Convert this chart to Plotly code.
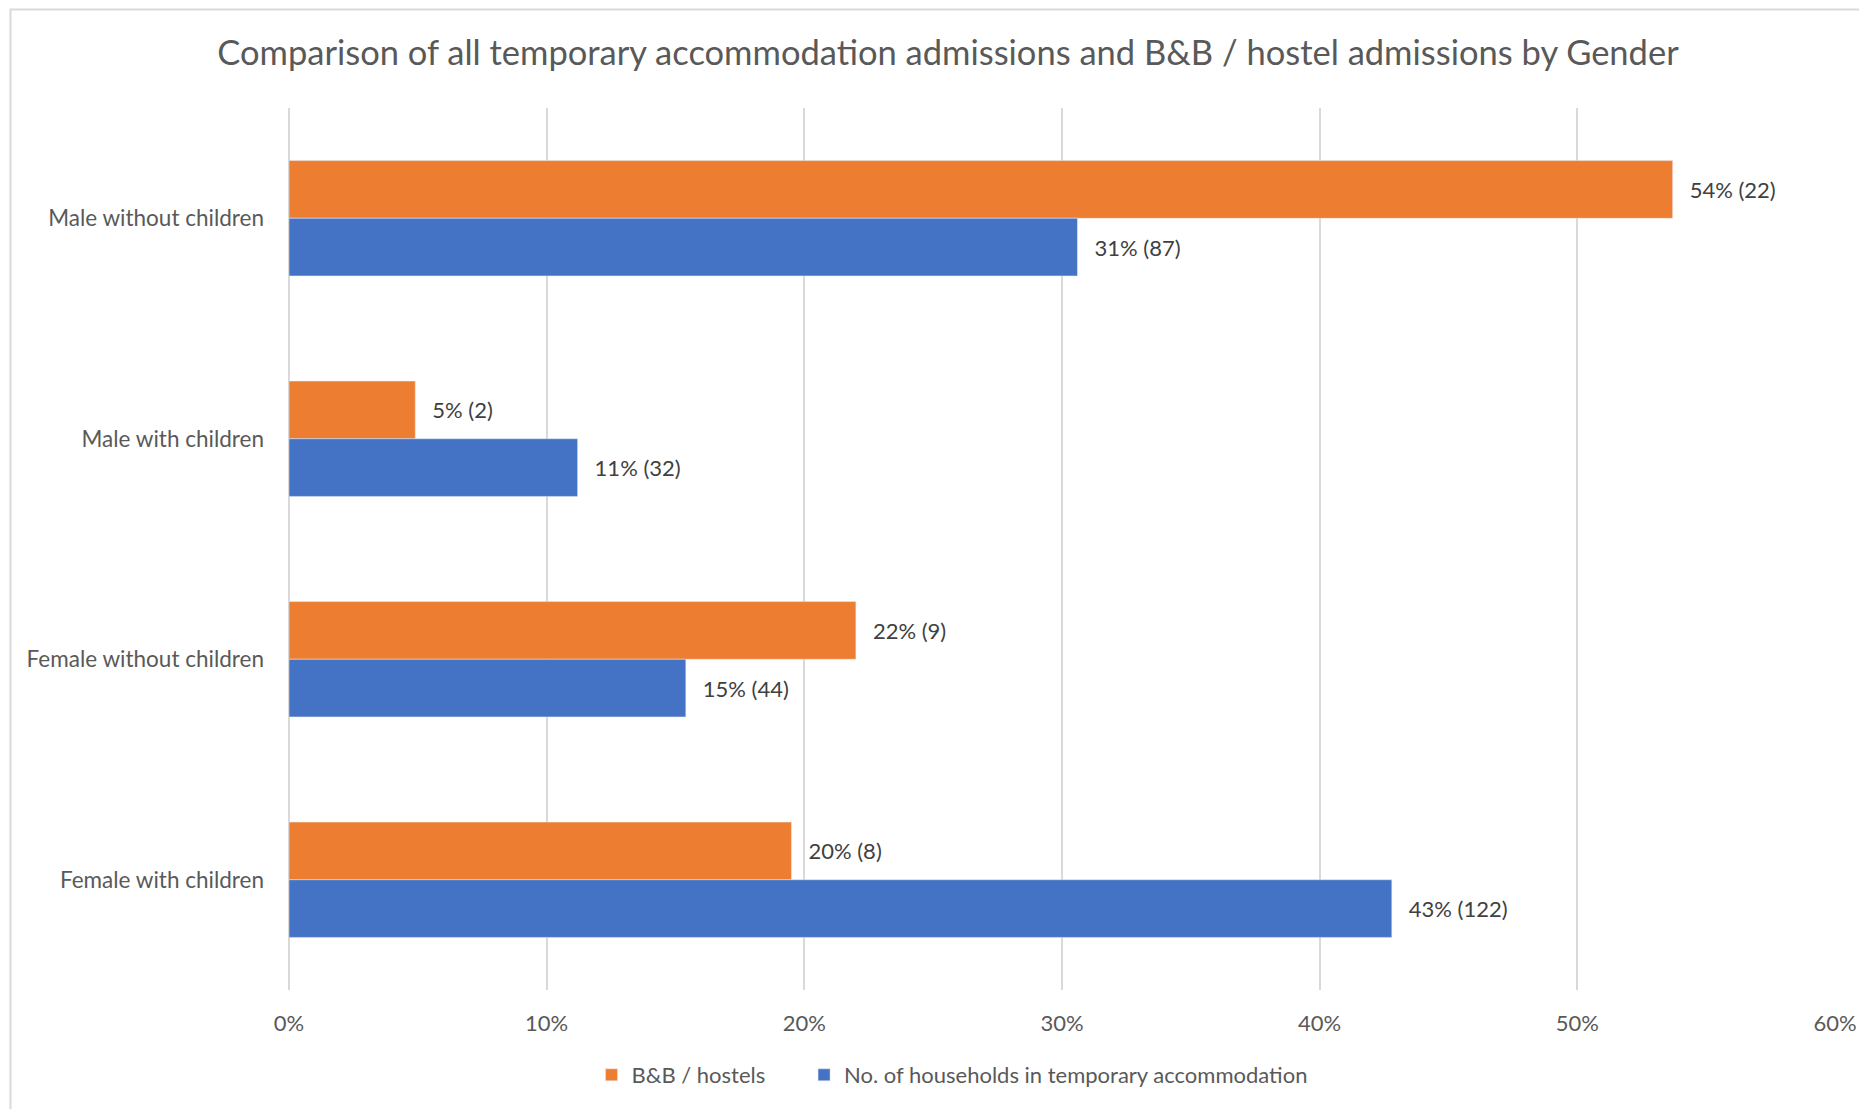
import plotly.graph_objects as go

CATEGORIAS = ["Male without children", "Male with children",
              "Female without children", "Female with children"]
BB_PCT = [53.7, 4.9, 22.0, 19.5]
BB_N = [22, 2, 9, 8]
TA_PCT = [30.6, 11.2, 15.4, 42.8]
TA_N = [87, 32, 44, 122]
TICKS = [0, 10, 20, 30, 40, 50, 60]

FONTE = "Lato"
CINZA = "#595959"
PAD = "\u00a0\u00a0\u2009"

# a página tem 8px de margem no body
L, R, T, B = 281, 40, 100, 127
PW, PH = 1867 - L - R, 1109 - T - B

fig = go.Figure()
fig.add_trace(go.Bar(
    y=CATEGORIAS, x=BB_PCT, customdata=BB_N, orientation="h",
    name="B&B / hostels" + "\u00a0" * 6, marker_color="#ED7D31",
    texttemplate=PAD + "%{x:.0f}% (%{customdata})", textposition="outside",
    textfont=dict(family=FONTE, size=22, color="#404040"), cliponaxis=False,
))
fig.add_trace(go.Bar(
    y=CATEGORIAS, x=TA_PCT, customdata=TA_N, orientation="h",
    name="No. of households in temporary accommodation", marker_color="#4472C4",
    texttemplate=PAD + "%{x:.0f}% (%{customdata})", textposition="outside",
    textfont=dict(family=FONTE, size=22, color="#404040"), cliponaxis=False,
))

# moldura do gráfico (estilo Excel)
fig.add_shape(type="rect", xref="paper", yref="paper",
              x0=(2.5 - L) / PW, x1=1.1, y0=-0.3, y1=(T + PH - 1.5) / PH,
              line=dict(color="#d9d9d9", width=2), layer="below")

fig.update_layout(
    title=dict(text="Comparison of all temporary accommodation admissions and B&B / hostel admissions by Gender",
               x=940 / 1867, xanchor="center", y=1 - 45 / 1109, yanchor="middle", yref="container",
               font=dict(family=FONTE, size=34.5, color=CINZA)),
    barmode="group", bargap=0.477, bargroupgap=0,
    width=1867, height=1109,
    margin=dict(l=L, r=R, t=T, b=B),
    plot_bgcolor="white", paper_bgcolor="white",
    font=dict(family=FONTE, size=22, color=CINZA),
    xaxis=dict(range=[0, 60], tickvals=TICKS, ticktext=[f"{t}%" for t in TICKS],
               showgrid=True, gridcolor="#d9d9d9", gridwidth=2, zeroline=True,
               zerolinecolor="#d9d9d9", zerolinewidth=2, showline=False,
               ticklabelstandoff=18, tickfont=dict(size=22, color=CINZA)),
    yaxis=dict(autorange="reversed", showgrid=False, showline=False,
               ticklabelstandoff=24, tickfont=dict(size=22.5, color=CINZA)),
    legend=dict(orientation="h", xref="container", yref="container",
                x=944 / 1867, xanchor="center", y=1 - 1067 / 1109, yanchor="middle",
                font=dict(size=22, color=CINZA), traceorder="normal"),
    showlegend=True,
)

fig.write_html("out.html")
